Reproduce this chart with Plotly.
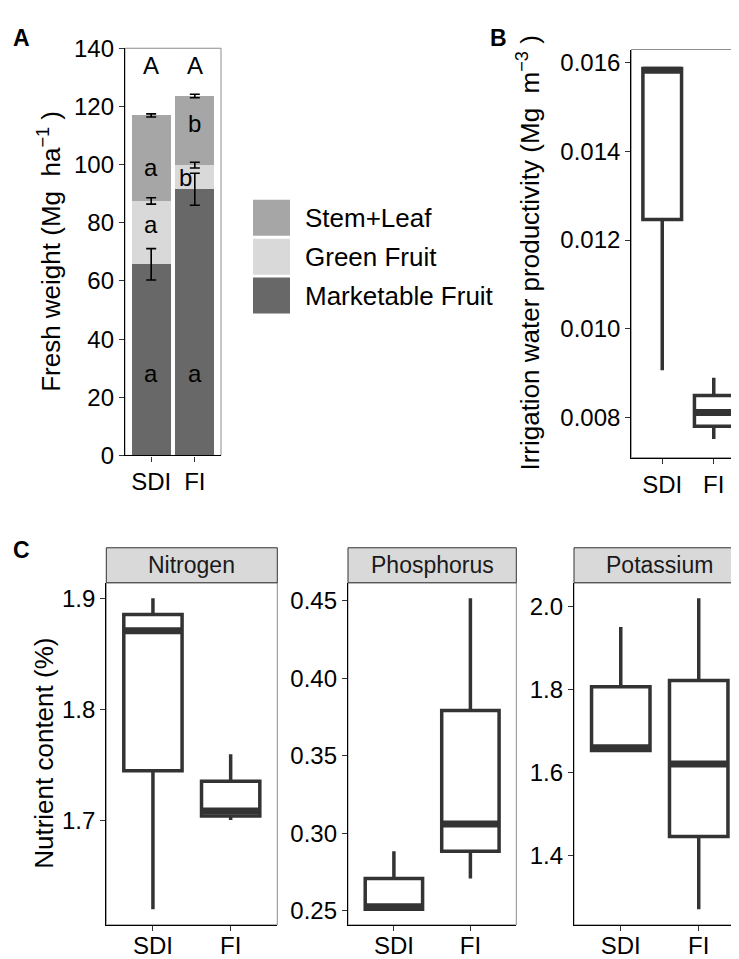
import plotly.graph_objects as go

W, H = 739, 959
FONT = "Arial, Liberation Sans, sans-serif"
DARK = "#333333"

# ---------------- data ----------------
groups = ["SDI", "FI"]
xpos = [1, 2]

# Panel A: stacked fresh weight (Mg ha-1)
components = ["Stem+Leaf", "Green Fruit", "Marketable Fruit"]
marketable = [65.7, 91.5]
green_fruit = [21.8, 8.3]
stem_leaf = [29.4, 23.8]
sd_marketable = [5.4, 5.5]
sd_green = [1.1, 1.0]
sd_stem = [0.55, 0.6]
comp_colors = ["#A6A6A6", "#D9D9D9", "#686868"]

letters_total = ["A", "A"]
letters_total_y = [134, 134]
letters_stem = ["a", "b"]
letters_stem_y = [99, 114]
letters_green = ["a", "b"]
letters_green_y = [79.5, 95.6]
letters_green_x = [1, 1.78]
letters_market = ["a", "a"]
letters_market_y = [28, 28]

# Panel B: irrigation water productivity (box stats)
iwp_low = [0.00907, 0.00752]
iwp_q1 = [0.01246, 0.00781]
iwp_med = [0.01582, 0.00812]
iwp_q3 = [0.01586, 0.00850]
iwp_high = [0.01587, 0.00890]

# Panel C: nutrient content (%) box stats
nutrients = ["Nitrogen", "Phosphorus", "Potassium"]
n_low = [1.6206, 1.7009]
n_q1 = [1.7450, 1.7044]
n_med = [1.8708, 1.7088]
n_q3 = [1.8854, 1.7356]
n_high = [1.9000, 1.7599]

p_low = [0.2510, 0.2708]
p_q1 = [0.2510, 0.2885]
p_med = [0.2527, 0.3061]
p_q3 = [0.2708, 0.3793]
p_high = [0.2885, 0.4517]

k_low = [1.6530, 1.2710]
k_q1 = [1.6535, 1.4462]
k_med = [1.6598, 1.6207]
k_q3 = [1.8068, 1.8217]
k_high = [1.9507, 2.0196]

# ---------------- layout helpers ----------------
def px_x(p):
    return p / W

def px_y(p):
    return 1 - p / H

def expand(lo, hi, f=0.05):
    r = hi - lo
    return [lo - f * r, hi + f * r]

BOXW = 0.75

fig = go.Figure()

# ---- Panel A bars ----
for name, vals, col in [("Marketable Fruit", marketable, comp_colors[2]),
                        ("Green Fruit", green_fruit, comp_colors[1]),
                        ("Stem+Leaf", stem_leaf, comp_colors[0])]:
    fig.add_trace(go.Bar(x=xpos, y=vals, width=0.9, marker=dict(color=col, line=dict(width=0)),
                         name=name, showlegend=False, xaxis="x", yaxis="y"))

# error bars at cumulative tops
cum1 = marketable
cum2 = [a + b for a, b in zip(marketable, green_fruit)]
cum3 = [a + b + c for a, b, c in zip(marketable, green_fruit, stem_leaf)]
for ys, sd in [(cum1, sd_marketable), (cum2, sd_green), (cum3, sd_stem)]:
    fig.add_trace(go.Scatter(x=xpos, y=ys, mode="markers", marker=dict(size=0.1, color="rgba(0,0,0,0)"),
                             error_y=dict(type="data", array=sd, visible=True, color="black",
                                          thickness=1.6, width=5),
                             showlegend=False, hoverinfo="skip", xaxis="x", yaxis="y"))

# ---- box helper ----
def add_box(ax, low, q1, med, q3, high):
    xa = "x" + ("" if ax == 1 else str(ax))
    ya = "y" + ("" if ax == 1 else str(ax))
    fig.add_trace(go.Box(x=xpos, q1=q1, median=med, q3=q3, lowerfence=low, upperfence=high,
                         width=BOXW, whiskerwidth=0, fillcolor="white",
                         line=dict(color=DARK, width=3.5), boxpoints=False,
                         showlegend=False, hoverinfo="skip", xaxis=xa, yaxis=ya))
    mx, my = [], []
    for xp, m in zip(xpos, med):
        mx += [xp - BOXW / 2, xp + BOXW / 2, None]
        my += [m, m, None]
    fig.add_trace(go.Scatter(x=mx, y=my, mode="lines", line=dict(color=DARK, width=7),
                             showlegend=False, hoverinfo="skip", xaxis=xa, yaxis=ya))

add_box(2, iwp_low, iwp_q1, iwp_med, iwp_q3, iwp_high)
add_box(3, n_low, n_q1, n_med, n_q3, n_high)
add_box(4, p_low, p_q1, p_med, p_q3, p_high)
add_box(5, k_low, k_q1, k_med, k_q3, k_high)

# ---------------- axes ----------------
tickfont = dict(family=FONT, size=24, color="black")

def xaxis(dom, anchor, standoff=0):
    return dict(domain=dom, anchor=anchor, range=[0.4, 2.6], tickvals=xpos, ticktext=groups,
                showline=True, linecolor="black", linewidth=1.3, ticks="outside", ticklen=5,
                tickwidth=1.2, tickcolor=DARK, tickfont=tickfont, showgrid=False, zeroline=False,
                ticklabelstandoff=standoff, fixedrange=True)

def yaxis(dom, anchor, rng, tickvals, fmt):
    return dict(domain=dom, anchor=anchor, range=rng, tickvals=tickvals,
                ticktext=[format(v, fmt) for v in tickvals],
                showline=True, linecolor="black", linewidth=1.3, ticks="outside", ticklen=5,
                tickwidth=1.2, tickcolor=DARK, tickfont=tickfont, showgrid=False, zeroline=False,
                fixedrange=True)

A_x = [px_x(117), px_x(213)]
A_y = [px_y(446), px_y(27)]
B_x = [px_x(623.3), px_x(736.7)]
B_y = [px_y(448.3), px_y(28.3)]
C_top, C_bot = 577, 929
C_y = [px_y(C_bot), px_y(C_top)]
N_x = [px_x(98.3), px_x(269.3)]
P_x = [px_x(340), px_x(508.3)]
K_x = [px_x(566), px_x(737.5)]

fig.update_layout(
    xaxis=xaxis(A_x, "y"),
    yaxis=yaxis(A_y, "x", [0, 140], [0, 20, 40, 60, 80, 100, 120, 140], "d"),
    xaxis2=xaxis(B_x, "y2"),
    yaxis2=yaxis(B_y, "x2", expand(min(iwp_low), max(iwp_high)),
                 [0.008, 0.010, 0.012, 0.014, 0.016], ".3f"),
    xaxis3=xaxis(N_x, "y3", -6),
    yaxis3=yaxis(C_y, "x3", expand(min(n_low), max(n_high)), [1.7, 1.8, 1.9], ".1f"),
    xaxis4=xaxis(P_x, "y4", -6),
    yaxis4=yaxis(C_y, "x4", expand(min(p_low), max(p_high)), [0.25, 0.30, 0.35, 0.40, 0.45], ".2f"),
    xaxis5=xaxis(K_x, "y5", -6),
    yaxis5=yaxis(C_y, "x5", expand(min(k_low), max(k_high)), [1.4, 1.6, 1.8, 2.0], ".1f"),
)

shapes = []
annotations = []

# significance letters in panel A
letter_font = dict(family=FONT, size=24, color="black")
for xs, ys, t in [(xpos, letters_total_y, letters_total),
                  (xpos, letters_stem_y, letters_stem),
                  (letters_green_x, letters_green_y, letters_green),
                  (xpos, letters_market_y, letters_market)]:
    for xv, yv, tv in zip(xs, ys, t):
        annotations.append(dict(text=tv, xref="x", yref="y", x=xv, y=yv, showarrow=False,
                                xanchor="center", yanchor="middle", font=letter_font))

# grey panel borders
for i in ["", "2", "3", "4", "5"]:
    shapes.append(dict(type="rect", xref=f"x{i} domain", yref=f"y{i} domain", x0=0, x1=1, y0=0, y1=1,
                       line=dict(color="#8C8C8C", width=1), fillcolor="rgba(0,0,0,0)", layer="below"))

# facet strips
STRIP_H = 36
for i, name in zip(["3", "4", "5"], nutrients):
    shapes.append(dict(type="rect", xref=f"x{i} domain", yref="paper", x0=0, x1=1,
                       y0=px_y(C_top), y1=px_y(C_top - STRIP_H),
                       line=dict(color=DARK, width=1), fillcolor="#D9D9D9", layer="above"))
    annotations.append(dict(text=name, xref=f"x{i} domain", yref="paper", x=0.5,
                            y=px_y(C_top - STRIP_H / 2), showarrow=False, xanchor="center",
                            yanchor="middle", font=dict(family=FONT, size=23, color="#1A1A1A")))

# legend for panel A
leg_x0, leg_y0, key, gap = 245, 183, 37, 3
for j, (name, col) in enumerate(zip(components, comp_colors)):
    top = leg_y0 + j * (key + gap)
    shapes.append(dict(type="rect", xref="paper", yref="paper", x0=px_x(leg_x0), x1=px_x(leg_x0 + key),
                       y0=px_y(top + key), y1=px_y(top), line=dict(width=0), fillcolor=col))
    annotations.append(dict(text=name, xref="paper", yref="paper", x=px_x(295), y=px_y(top + key / 2),
                            showarrow=False, xanchor="left", yanchor="middle",
                            font=dict(family=FONT, size=26, color="black")))

# axis titles
titlefont = dict(family=FONT, size=26, color="black")
annotations.append(dict(text="Fresh weight (Mg\u00a0 ha<sup>\u22121</sup> )", xref="paper", yref="paper",
                        x=px_x(42), y=px_y((27 + 446) / 2), textangle=-90, showarrow=False,
                        xanchor="center", yanchor="middle", font=titlefont))
annotations.append(dict(text="Irrigation water productivity (Mg\u00a0 m<sup>\u22123</sup> )", xref="paper",
                        yref="paper", x=px_x(521), y=px_y((28.3 + 448.3) / 2), textangle=-90,
                        showarrow=False, xanchor="center", yanchor="middle", font=titlefont))
annotations.append(dict(text="Nutrient content (%)", xref="paper", yref="paper",
                        x=px_x(36), y=px_y((C_top + C_bot) / 2), textangle=-90, showarrow=False,
                        xanchor="center", yanchor="middle", font=titlefont))

# panel labels
for lab, lx, ly in [("A", 13, 16), ("B", 490, 16), ("C", 13, C_top - STRIP_H + 2)]:
    annotations.append(dict(text=f"<b>{lab}</b>", xref="paper", yref="paper", x=px_x(lx), y=px_y(ly),
                            showarrow=False, xanchor="center", yanchor="middle",
                            font=dict(family=FONT, size=23, color="black")))

fig.update_layout(
    width=W, height=H, margin=dict(l=0, r=0, t=0, b=0),
    paper_bgcolor="white", plot_bgcolor="white",
    barmode="stack", showlegend=False,
    shapes=shapes, annotations=annotations,
    font=dict(family=FONT, color="black"),
)

fig.write_html("out.html")
